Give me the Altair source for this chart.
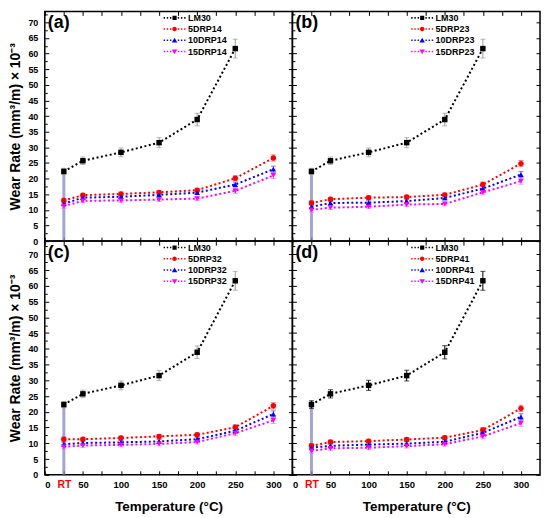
import altair as alt
import pandas as pd

# ---------------- data ----------------
temps = [25, 50, 100, 150, 200, 250, 300]
x_ticks = [0, 25, 50, 75, 100, 125, 150, 175, 200, 225, 250, 275, 300]
y_major = [0, 5, 10, 15, 20, 25, 30, 35, 40, 45, 50, 55, 60, 65, 70]
y_minor = [2.5, 7.5, 12.5, 17.5, 22.5, 27.5, 32.5, 37.5, 42.5, 47.5, 52.5, 57.5, 62.5, 67.5, 72.5]

lm30_vals = [22.3, 25.7, 28.4, 31.5, 38.9, 61.6]
lm30_err = [1.0, 1.2, 1.4, 1.6, 2.0, 3.0]
lm30_err_d = [1.2, 1.3, 1.6, 1.7, 2.1, 3.0]

drp14_5 = [13.0, 14.7, 15.1, 15.6, 16.3, 20.1, 26.6]
drp14_10 = [12.0, 13.9, 14.2, 14.8, 15.5, 18.1, 23.0]
drp14_15 = [11.2, 12.9, 13.0, 13.3, 13.6, 16.1, 21.0]

drp23_5 = [12.2, 13.4, 13.9, 14.1, 14.8, 18.1, 24.8]
drp23_10 = [11.0, 12.2, 12.3, 12.8, 13.8, 16.8, 21.3]
drp23_15 = [10.0, 10.7, 11.0, 11.7, 11.9, 15.6, 19.2]

drp32_5 = [11.3, 11.3, 11.7, 12.2, 12.7, 15.1, 21.9]
drp32_10 = [9.7, 10.1, 10.3, 10.6, 11.3, 14.0, 19.3]
drp32_15 = [8.9, 9.3, 9.5, 9.8, 10.4, 13.2, 17.3]

drp41_5 = [9.2, 10.4, 10.7, 11.2, 11.8, 14.2, 21.1]
drp41_10 = [8.6, 9.2, 9.6, 9.9, 10.5, 13.3, 18.4]
drp41_15 = [7.6, 8.4, 8.6, 9.1, 9.7, 12.2, 16.4]

drp_err = [0.7, 0.6, 0.6, 0.6, 0.6, 0.8, 1.0]

# ---------------- styles ----------------
FONT = "Liberation Sans"
colors = ["#000000", "#ff0000", "#0000ff", "#ff00ff"]
shapes = ["square", "circle", "triangle-up", "triangle-down"]


def dash_path(x0, x1, t=0.14):
    return f"M{x0},{-t}H{x1}V{t}H{x0}Z"


DASHES = "".join(dash_path(a, b) for a, b in
                 [(-2, -1.75), (-1.42, -1.17), (-0.84, -0.59), (0.59, 0.84), (1.17, 1.42), (1.75, 2)])
markers = [
    "M-0.38,-0.38H0.38V0.38H-0.38Z",
    "M-0.42,0A0.42,0.42,0,1,0,0.42,0A0.42,0.42,0,1,0,-0.42,0Z",
    "M0,-0.48L0.5,0.38L-0.5,0.38Z",
    "M0,0.48L0.5,-0.38L-0.5,-0.38Z",
]
legend_shapes = [DASHES + m for m in markers]

RT_TEST = "datum.value === 25"


def make_panel(letter, suffix, s5, s10, s15, lm_err, lm_ecol, bottom, left, height, ytop):
    names = ["LM30", f"5DRP{suffix}", f"10DRP{suffix}", f"15DRP{suffix}"]
    series = [(names[0], lm30_vals, lm_err, lm_ecol),
              (names[1], s5, drp_err, "#ff5050"),
              (names[2], s10, drp_err, "#5050ff"),
              (names[3], s15, drp_err, "#ff60ff")]
    rows = []
    for name, vals, errs, ecol in series:
        for T, v, e in zip(temps, vals, errs):
            rows.append(dict(T=T, rate=v, lo=v - e, hi=v + e, base=0.0,
                             series=name, ecol=ecol))
    df = pd.DataFrame(rows)

    xsc = alt.Scale(domain=[0, 325], nice=False, zero=False)
    ysc = alt.Scale(domain=[0, ytop], nice=False, zero=False)

    def cenc(legend=None):
        if legend is None:
            return alt.Color("series:N", scale=alt.Scale(domain=names, range=colors), legend=None)
        return alt.Color("series:N", scale=alt.Scale(domain=names, range=colors), legend=legend)

    x_main = alt.Axis(
        orient="bottom", values=x_ticks, offset=-4, tickSize=4, domain=False, grid=False,
        labels=bottom, labelOverlap=False, labelPadding=5,
        labelExpr="datum.value === 25 ? 'RT' : (datum.value % 50 === 0 ? datum.label : '')",
        labelColor={"condition": {"test": RT_TEST, "value": "#ff0000"}, "value": "#000000"},
        labelFontSize={"condition": {"test": RT_TEST, "value": 10.5}, "value": 9.5},
        title="Temperature (°C)" if bottom else None,
        titleFontSize=13.5, titlePadding=9,
    )
    y_main = alt.Axis(
        orient="left", values=y_major, offset=-4, tickSize=4, domain=False, grid=False,
        labels=left, labelFontSize=9, labelPadding=7,
        title="Wear Rate (mm³/m) × 10⁻³" if left else None,
        titleFontSize=14, titlePadding=5,
    )
    x_top = alt.Axis(orient="top", values=x_ticks, offset=-4, tickSize=4, domain=False,
                     grid=False, labels=False, title=None)
    y_right = alt.Axis(orient="right", values=y_major, offset=-4, tickSize=4, domain=False,
                       grid=False, labels=False, title=None)
    y_min = alt.Axis(orient="left", values=y_minor, offset=-2.5, tickSize=2.5, domain=False,
                     grid=False, labels=False, title=None)

    base = alt.Chart(df)

    rt_rule = base.transform_filter(
        (alt.datum.series == "LM30") & (alt.datum.T == 25)
    ).mark_rule(color="#8484c8", strokeWidth=3, opacity=0.75).encode(
        x=alt.X("T:Q", scale=xsc, axis=None),
        y=alt.Y("base:Q", scale=ysc, axis=y_min),
        y2="hi:Q",
    )

    ebars = base.mark_errorbar(ticks=True, thickness=1).encode(
        x=alt.X("T:Q", scale=xsc, axis=None),
        y=alt.Y("lo:Q", scale=ysc, axis=None),
        y2="hi:Q",
        color=alt.Color("ecol:N", scale=None, legend=None),
    )

    lines = base.mark_line(strokeDash=[2, 2.5], strokeWidth=2).encode(
        x=alt.X("T:Q", scale=xsc, axis=x_top),
        y=alt.Y("rate:Q", scale=ysc, axis=y_right),
        color=cenc(),
        order="T:Q",
    )

    points = base.mark_point(filled=True, size=30, opacity=1).encode(
        x=alt.X("T:Q", scale=xsc, axis=x_main),
        y=alt.Y("rate:Q", scale=ysc, axis=y_main),
        color=cenc(),
        shape=alt.Shape("series:N", scale=alt.Scale(domain=names, range=shapes), legend=None),
    )

    leg = alt.Legend(orient="none", legendX=125, legendY=1, title=None,
                     labelFont=FONT, labelFontWeight="bold", labelFontSize=9,
                     labelColor="black", symbolSize=121, symbolStrokeWidth=0,
                     symbolOpacity=1, rowPadding=0.3, labelOffset=8, padding=0)
    legend_layer = base.transform_filter("false").mark_point(filled=True, size=121).encode(
        color=cenc(leg),
        shape=alt.Shape("series:N", scale=alt.Scale(domain=names, range=legend_shapes), legend=leg),
    )

    tag = alt.Chart(pd.DataFrame({"tag": [f"({letter})"]})).mark_text(
        align="left", baseline="middle", fontSize=18, fontWeight="bold", font=FONT, color="black"
    ).encode(text="tag:N", x=alt.value(3), y=alt.value(12))

    return alt.layer(rt_rule, ebars, lines, points, legend_layer, tag).resolve_axis(
        x="independent", y="independent"
    ).resolve_scale(color="independent", shape="independent").properties(width=249, height=height)


pa = make_panel("a", "14", drp14_5, drp14_10, drp14_15, lm30_err, "#999999", False, True, 231, 73.5)
pb = make_panel("b", "23", drp23_5, drp23_10, drp23_15, lm30_err, "#999999", False, False, 231, 73.5)
pc = make_panel("c", "32", drp32_5, drp32_10, drp32_15, lm30_err, "#999999", True, True, 235, 74.2)
pd_ = make_panel("d", "41", drp41_5, drp41_10, drp41_15, lm30_err_d, "#000000", True, False, 235, 74.2)

chart = alt.concat(pa, pb, pc, pd_, columns=2, spacing=0, bounds="flush").resolve_scale(
    color="independent", shape="independent"
).configure_view(stroke="black", strokeWidth=1.5).configure_axis(
    labelFont=FONT, titleFont=FONT, labelFontWeight="bold", titleFontWeight="bold",
    labelColor="black", titleColor="black", tickColor="black", tickWidth=1,
).properties(background="white", padding={"left": 0, "top": 0, "right": 0, "bottom": 0})

chart.save("out.html", embed_options={"renderer": "svg", "actions": False})
